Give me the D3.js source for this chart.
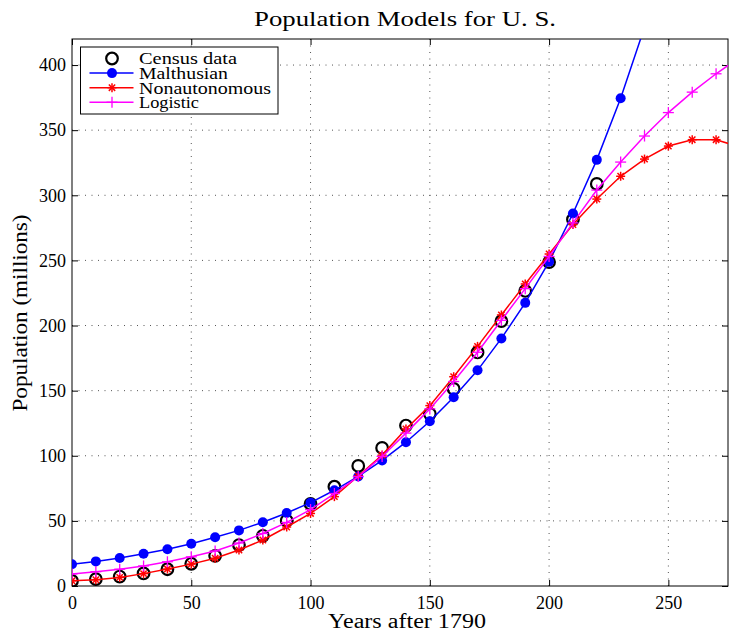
<!DOCTYPE html>
<html>
<head>
<meta charset="utf-8">
<script src="https://cdn.jsdelivr.net/npm/d3@7"></script>
<style>
  body { margin: 0; background: #fff; }
  svg  { display: block; font-family: "Liberation Serif", "DejaVu Serif", serif; }
</style>
</head>
<body>
<div id="chart"></div>
<script>
/* ─────────────────── Datos ──────────────────── */
const censusYears = [0,10,20,30,40,50,60,70,80,90,100,110,120,130,140,150,160,170,180,190,200,210,220];
const census = [3.929,5.308,7.240,9.638,12.866,17.069,23.192,31.443,38.558,50.189,62.980,76.212,
                92.228,106.022,123.203,132.165,151.326,179.323,203.302,226.542,248.710,281.422,308.746];

const modelYears = [0,10,20,30,40,50,60,70,80,90,100,110,120,130,140,150,160,170,180,190,200,
                    210,220,230,240,250,260,270,280];

const malthusian = [16.7,18.9,21.5,24.8,28.2,32.5,37.4,42.7,49.0,56.1,64.0,73.5,84.1,96.4,110.4,
                    126.5,144.9,165.6,190.1,217.4,249.0,286.0,327.2,374.5,429.0];

const nonautonomous = [4.0,4.8,6.6,9.5,13.0,16.8,21.3,27.6,35.3,45.3,55.7,68.6,84.5,100.5,120.6,
                       138.5,160.7,184.0,208.1,231.9,254.9,277.5,297.1,314.6,327.8,337.8,342.7,342.7,337.0];

const logistic = [9.3,11.0,12.9,15.4,18.6,22.4,26.9,33.0,40.3,48.8,58.7,71.0,84.0,99.5,117.4,
                  136.0,157.0,179.5,204.0,228.3,253.0,278.8,304.0,325.5,345.5,363.5,379.2,393.3,406.0];

const xTicks = [0,50,100,150,200,250];
const yTicks = [0,50,100,150,200,250,300,350,400];

/* ─────────────────── Layout ──────────────────── */
const W = 730, H = 633;
const M = { left: 72, right: 728, top: 39, bottom: 586 };

const svg = d3.select('#chart').append('svg')
  .attr('width', W).attr('height', H);

const x = d3.scaleLinear().domain([0, 275]).range([M.left, M.right]);
const y = d3.scaleLinear().domain([0, 420]).range([M.bottom, M.top]);

svg.append('clipPath').attr('id', 'clip')
  .append('rect')
    .attr('x', M.left).attr('y', M.top)
    .attr('width', M.right - M.left).attr('height', M.bottom - M.top);

/* grid punteada */
const grid = svg.append('g').attr('stroke', '#555').attr('stroke-width', 1)
  .attr('stroke-dasharray', '1,5.5');
grid.selectAll('.gx').data(xTicks.slice(1)).join('line')
  .attr('x1', d => x(d)).attr('x2', d => x(d))
  .attr('y1', M.bottom).attr('y2', M.top);
grid.selectAll('.gy').data(yTicks.slice(1)).join('line')
  .attr('y1', d => y(d)).attr('y2', d => y(d))
  .attr('x1', M.left).attr('x2', M.right);

/* ejes (ticks hacia dentro, estilo MATLAB) */
const tk = 6;
const axB = d3.axisBottom(x).tickValues(xTicks).tickSize(-tk).tickPadding(10);
const axL = d3.axisLeft(y).tickValues(yTicks).tickSize(-tk).tickPadding(6);
const axT = d3.axisTop(x).tickValues(xTicks).tickSize(-tk).tickFormat('');
const axR = d3.axisRight(y).tickValues(yTicks).tickSize(-tk).tickFormat('');

function styleAxis(g) {
  g.select('.domain').remove();
  g.selectAll('line').attr('stroke', '#000');
  g.selectAll('text').attr('font-size', 18).attr('fill', '#000')
    .attr('font-family', '"Liberation Serif", serif');
}
svg.append('g').attr('transform', `translate(0,${M.bottom})`).call(axB).call(styleAxis);
svg.append('g').attr('transform', `translate(${M.left},0)`).call(axL).call(styleAxis);
svg.append('g').attr('transform', `translate(0,${M.top})`).call(axT).call(styleAxis);
svg.append('g').attr('transform', `translate(${M.right},0)`).call(axR).call(styleAxis);

svg.append('rect')
  .attr('x', M.left).attr('y', M.top)
  .attr('width', M.right - M.left).attr('height', M.bottom - M.top)
  .attr('fill', 'none').attr('stroke', '#000').attr('stroke-width', 1);

/* ─────────────────── Series ──────────────────── */
const plot = svg.append('g').attr('clip-path', 'url(#clip)');
const line = d3.line().x(d => x(d[0])).y(d => y(d[1]));

function asterisk(g, c) {
  const r = 4.5;
  [0, 45, 90, 135].forEach(a => {
    const rad = a * Math.PI / 180;
    g.append('line')
      .attr('x1', -r * Math.cos(rad)).attr('y1', -r * Math.sin(rad))
      .attr('x2',  r * Math.cos(rad)).attr('y2',  r * Math.sin(rad))
      .attr('stroke', c).attr('stroke-width', 1.5);
  });
}
function plus(g, c) {
  const r = 5.5;
  g.append('line').attr('x1', -r).attr('x2', r).attr('y1', 0).attr('y2', 0)
    .attr('stroke', c).attr('stroke-width', 1.3);
  g.append('line').attr('y1', -r).attr('y2', r).attr('x1', 0).attr('x2', 0)
    .attr('stroke', c).attr('stroke-width', 1.3);
}
function dot(g, c) {
  g.append('circle').attr('r', 5).attr('fill', c);
}
function ring(g) {
  g.append('circle').attr('r', 5.8).attr('fill', 'none')
    .attr('stroke', '#000').attr('stroke-width', 2.2);
}

const SERIES = [
  { name: 'Malthusian',    vals: malthusian,    color: '#0000ff', mk: dot,      w: 89 },
  { name: 'Nonautonomous', vals: nonautonomous, color: '#ff0000', mk: asterisk, w: 132 },
  { name: 'Logistic',      vals: logistic,      color: '#ff00ff', mk: plus,     w: 60 }
];

/* círculos del censo debajo */
plot.append('g').selectAll('g')
  .data(d3.zip(censusYears, census))
  .join('g')
    .attr('transform', d => `translate(${x(d[0])},${y(d[1])})`)
    .each(function () { ring(d3.select(this)); });

SERIES.forEach(s => {
  const pts = d3.zip(modelYears.slice(0, s.vals.length), s.vals);
  plot.append('path').datum(pts)
    .attr('d', line).attr('fill', 'none')
    .attr('stroke', s.color).attr('stroke-width', 1.5);
  plot.append('g').selectAll('g')
    .data(pts)
    .join('g')
      .attr('transform', d => `translate(${x(d[0])},${y(d[1])})`)
      .each(function () { s.mk(d3.select(this), s.color); });
});

/* ─────────────────── Leyenda ──────────────────── */
const lg = svg.append('g').attr('transform', 'translate(80.5,47)');
lg.append('rect').attr('width', 197.5).attr('height', 67)
  .attr('fill', '#fff').attr('stroke', '#000').attr('stroke-width', 1);

const legendItems = [{ name: 'Census data', color: null, mk: ring, w: 98 }].concat(SERIES);
legendItems.forEach((s, i) => {
  const row = lg.append('g').attr('transform', `translate(0,${11.5 + i * 14.6})`);
  if (s.color) {
    row.append('line').attr('x1', 9).attr('x2', 53).attr('y1', 0).attr('y2', 0)
      .attr('stroke', s.color).attr('stroke-width', 1.5);
  }
  const m = row.append('g').attr('transform', 'translate(31.5,0)');
  s.mk(m, s.color);
  row.append('text').attr('x', 58.5).attr('y', 0).attr('dy', '0.35em')
    .attr('font-size', 17)
    .attr('textLength', s.w).attr('lengthAdjust', 'spacingAndGlyphs')
    .text(s.name);
});

/* ─────────────────── Títulos ──────────────────── */
svg.append('text')
  .attr('x', 405).attr('y', 26)
  .attr('text-anchor', 'middle').attr('font-size', 22)
  .attr('textLength', 302).attr('lengthAdjust', 'spacingAndGlyphs')
  .text('Population Models for U. S.');

svg.append('text')
  .attr('x', 407).attr('y', 628)
  .attr('text-anchor', 'middle').attr('font-size', 20)
  .attr('textLength', 158).attr('lengthAdjust', 'spacingAndGlyphs')
  .text('Years after 1790');

svg.append('text')
  .attr('transform', `translate(27,313) rotate(-90)`)
  .attr('text-anchor', 'middle').attr('font-size', 20)
  .attr('textLength', 197).attr('lengthAdjust', 'spacingAndGlyphs')
  .text('Population (millions)');
</script>
</body>
</html>
